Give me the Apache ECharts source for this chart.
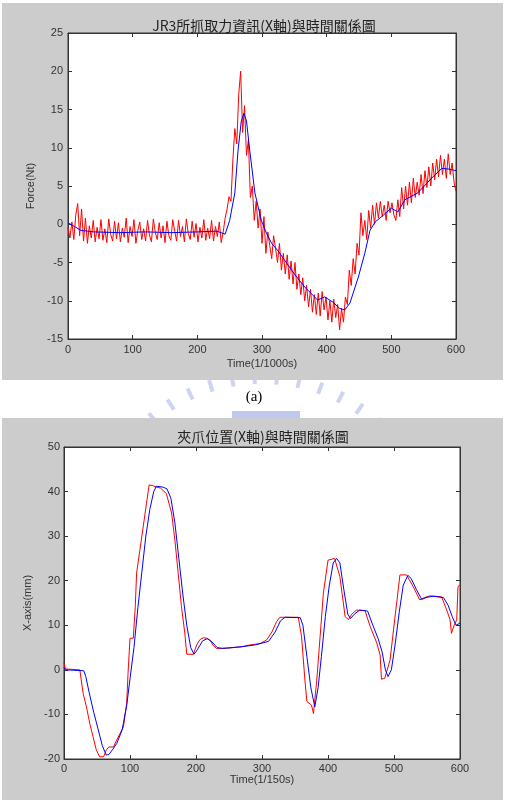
<!DOCTYPE html>
<html>
<head>
<meta charset="utf-8">
<script src="https://cdn.jsdelivr.net/npm/echarts@6/dist/echarts.min.js"></script>
<style>
  html, body { margin: 0; padding: 0; background: #fff; }
  #chart { width: 508px; height: 803px; }
</style>
</head>
<body>
<div id="chart"></div>
<script>
// (a) JR3 force, sampled every 3 units of 1/1000s
const forceStep = 3
const forceRed = [
  -0.5, -1.8, 0.3, -2.0, 1.2, 2.7, -1.5, 2.0, -2.2, 0.8,
  -2.5, -0.2, -1.8, 0.5, -2.3, -0.4, -1.9, 0.6, -2.1, -0.6,
  -2.4, 0.7, -1.3, -2.2, 0.4, -1.9, 0.2, -2.3, -0.5, -1.7,
  0.8, -2.4, -0.3, -1.6, 0.6, -2.5, -0.8, 0.3, -2.0, -0.6,
  -2.2, 0.5, -1.4, -2.3, 0.7, -1.1, -2.0, 0.2, -1.8, -0.2,
  -2.4, 0.4, -1.5, -2.1, 0.6, -0.9, -2.2, 0.5, -1.6, -0.3,
  -2.3, 0.7, -1.2, -2.0, 0.4, -1.7, 0.1, -2.3, -0.4, -1.8,
  0.6, -2.1, -0.5, -1.9, 0.5, -2.2, -0.3, -1.6, 0.3, -2.4,
  -1.0,
  0.8, 2.0, 3.6, 3.0, 8.5, 12.5, 10.5, 17.0, 20.0, 12.0,
  15.5, 9.0, 11.0, 3.5, 5.0, 0.5, 3.0, -0.5, 2.0, -2.5,
  1.0, -3.8, -1.0, -2.8, -4.5, -1.5, -3.2, -5.0, -2.5, -6.0,
  -3.8, -6.5, -4.0, -7.2, -4.8, -7.8, -5.0, -8.5, -6.5, -9.2,
  -7.0, -10.0, -8.0, -10.8, -8.5, -11.5, -9.2, -11.8, -9.0, -12.0,
  -8.8, -11.2, -9.5, -12.5, -10.0, -12.8, -9.8, -12.2, -10.5, -13.8,
  -11.0, -12.8, -9.5, -10.5, -6.0, -8.0, -4.5, -6.5, -2.5, -4.0,
  1.5, -1.5, 0.5, -2.0, 1.8, -0.5, 2.5, 0.0, 2.8, 0.8,
  3.0, 1.0, 2.5, 0.5, 3.0, 1.5, 2.8, 1.2, 0.5, 3.2,
  1.0, 4.8, 2.0, 5.0, 2.5, 5.5, 2.8, 6.0, 3.5, 5.5,
  3.8, 6.5, 4.0, 7.0, 4.8, 7.5, 5.0, 8.0, 5.8, 8.5,
  6.2, 9.0, 6.5, 8.5, 6.0, 9.2, 6.5, 8.0, 5.5, 4.3,
]
const forceBlue = [
  [0, 0.2], [10, -0.3], [20, -0.8], [40, -1.0], [80, -1.1], [120, -1.0], [160, -1.1],
  [200, -1.0], [230, -0.9], [243, -1.3], [250, 0.5], [258, 4.1], [263, 9.7], [268, 13.5],
  [272, 14.5], [276, 13.5], [281, 9.7], [289, 4.1], [299, 0.5], [307, -1.2], [315, -2.5],
  [325, -3.5], [335, -4.7], [350, -6.5], [366, -8.2], [386, -9.9], [397, -9.5], [410, -10.2],
  [420, -11.0], [428, -11.2], [436, -10.3], [449, -6.9], [459, -3.8], [467, -0.8], [475, 0.3],
  [485, 1.0], [500, 2.1], [510, 1.6], [521, 3.2], [541, 4.1], [562, 6.0], [578, 7.3],
  [590, 7.2], [600, 7.0],
]

// gripper X position (mm), time in 1/150s
const gripRed = [
  [0, 1.6], [2, 0.2], [5, 0], [24, 0], [29, -5.3], [34, -8.3], [39, -12], [44, -15],
  [49, -18], [54, -19.5], [60, -19.5], [64, -18], [68, -17.3], [75, -17.3], [80, -15.7],
  [90, -12.8], [95, -7.5], [97, -0.8], [100, 7.1], [105, 7.1], [108, 14.2], [110, 21.7],
  [112, 22], [115, 26.9], [120, 32.1], [125, 37.4], [129, 41.5], [135, 41.3], [140, 41],
  [146, 40.8], [155, 39.6], [163, 35.2], [168, 29.1], [173, 21.7], [178, 14.2], [183, 8.3],
  [186, 3.5], [196, 3.5], [201, 5.6], [206, 6.8], [211, 7.2], [216, 7.1], [221, 6.7],
  [226, 5.5], [231, 4.8], [250, 4.9], [270, 5.2], [282, 5.6], [297, 5.9], [307, 6.7],
  [315, 8.5], [322, 10.8], [327, 11.8], [355, 11.8], [360, 7.4], [365, -2.3], [368, -7.1],
  [375, -7.9], [378, -9.8], [383, -2.3], [388, 7.4], [393, 17.2], [400, 24.6], [410, 25],
  [418, 20.9], [426, 11.9], [431, 11.3], [436, 12.5], [443, 13.4], [456, 13.3], [464, 9.7],
  [474, 6.0], [479, 3.3], [481, -2.1], [486, -1.9], [494, 2.2], [501, 11.2], [509, 21.3],
  [519, 21.3], [529, 18.7], [539, 15.7], [546, 16.2], [554, 16.6], [572, 16.4], [580, 13.4],
  [585, 11.2], [587, 8.2], [592, 10.4], [595, 11.2], [597, 18.7], [600, 19],
]
const gripBlue = [
  [0, 0.5], [3, 0], [30, -0.2], [33, -1.5], [38, -5], [45, -9.5], [52, -13.5], [58, -17],
  [64, -19.1], [68, -19], [74, -17.8], [80, -16.5], [88, -13.5], [95, -8], [100, -2],
  [106, 5], [112, 14], [118, 22], [124, 30], [130, 36], [136, 40], [140, 41.2], [150, 41],
  [156, 40.6], [162, 38.5], [168, 33], [174, 25], [180, 17], [186, 10], [192, 5], [197, 3.5],
  [202, 4.5], [210, 6.5], [217, 7], [224, 6.3], [232, 5], [240, 4.8], [270, 5.2], [290, 5.6],
  [310, 6.4], [320, 8.5], [328, 11], [335, 11.8], [358, 11.7], [362, 10], [368, 3], [374, -4],
  [380, -8.3], [385, -4], [390, 3], [396, 12], [402, 19], [408, 24], [413, 25], [418, 24],
  [424, 18], [430, 12.5], [434, 11.5], [440, 12.5], [448, 13.4], [460, 13.2], [468, 10],
  [476, 7], [482, 4], [487, 0], [491, -1.5], [496, 0], [502, 6], [508, 13], [514, 19],
  [521, 21.2], [526, 20.5], [534, 18], [542, 15.8], [550, 16.3], [560, 16.5], [575, 16.2],
  [582, 14.5], [588, 12], [594, 10], [600, 10.5],
]

const titles = ['JR3所抓取力資訊(X軸)與時間關係圖', '夾爪位置(X軸)與時間關係圖']
const xNames = ['Time(1/1000s)', 'Time(1/150s)']
const yNames = ['Force(Nt)', 'X-axis(mm)']

const font = '"Liberation Sans", Arial, sans-serif'
const ink = '#333'

function axis(extra) {
  return Object.assign({
    type: 'value',
    axisLine: { show: true, onZero: false, lineStyle: { color: ink, width: 1 } },
    axisTick: { show: true, inside: true, length: 4, lineStyle: { color: ink } },
    axisLabel: { color: ink, fontSize: 11, fontFamily: font },
    splitLine: { show: false },
    nameTextStyle: { color: ink, fontSize: 11, fontFamily: font },
  }, extra)
}
const noLabel = { show: false }

// watermark dashes (decoration behind the panels)
const mark = []
for (let a = 40; a <= 140; a += 7.5) {
  const r = (a * Math.PI) / 180
  mark.push({
    type: 'line', z: -20, silent: true,
    shape: {
      x1: 262 + 164 * Math.cos(r), y1: 548 - 164 * Math.sin(r),
      x2: 262 + 176 * Math.cos(r), y2: 548 - 176 * Math.sin(r),
    },
    style: { stroke: '#cdd4f3', lineWidth: 4 },
  })
}

const option = {
  animation: false,
  title: [
    { text: titles[0], left: 259, top: 14, textAlign: 'center',
      textStyle: { fontSize: 14, fontWeight: 'normal', color: '#222', fontFamily: '"Noto Sans CJK TC", sans-serif' } },
    { text: titles[1], left: 258, top: 425, textAlign: 'center',
      textStyle: { fontSize: 14, fontWeight: 'normal', color: '#222', fontFamily: '"Noto Sans CJK TC", sans-serif' } },
  ],
  graphic: {
    elements: mark.concat([
      { type: 'rect', z: -20, silent: true, shape: { x: 232, y: 411, width: 68, height: 7 }, style: { fill: '#c0c8ee' } },
      { type: 'rect', z: -10, silent: true, shape: { x: 2, y: 3, width: 501, height: 377 }, style: { fill: '#cccccc' } },
      { type: 'rect', z: -10, silent: true, shape: { x: 2, y: 418, width: 501, height: 382 }, style: { fill: '#cccccc' } },
      { type: 'text', z: 10, x: 254, y: 397,
        style: { text: '(a)', fill: '#000', font: '15px "Liberation Serif", serif', textAlign: 'center', textVerticalAlign: 'middle' } },
    ]),
  },
  grid: [
    { left: 68, top: 33, width: 388, height: 306, show: true, backgroundColor: '#fff', borderColor: ink },
    { left: 64, top: 447, width: 396, height: 312, show: true, backgroundColor: '#fff', borderColor: ink },
  ],
  xAxis: [
    axis({ gridIndex: 0, min: 0, max: 600, interval: 100, position: 'bottom', axisLabel: { color: ink, fontSize: 11, fontFamily: font, margin: 5 },
      name: xNames[0], nameLocation: 'middle', nameGap: 19 }),
    axis({ gridIndex: 0, min: 0, max: 600, interval: 100, position: 'top', axisLabel: noLabel }),
    axis({ gridIndex: 1, min: 0, max: 600, interval: 100, position: 'bottom', axisLabel: { color: ink, fontSize: 11, fontFamily: font, margin: 4 },
      name: xNames[1], nameLocation: 'middle', nameGap: 15 }),
    axis({ gridIndex: 1, min: 0, max: 600, interval: 100, position: 'top', axisLabel: noLabel }),
  ],
  yAxis: [
    axis({ gridIndex: 0, min: -15, max: 25, interval: 5, position: 'left', axisLabel: { color: ink, fontSize: 11, fontFamily: font, margin: 5 },
      name: yNames[0], nameLocation: 'middle', nameGap: 29 }),
    axis({ gridIndex: 0, min: -15, max: 25, interval: 5, position: 'right', axisLabel: noLabel }),
    axis({ gridIndex: 1, min: -20, max: 50, interval: 10, position: 'left', axisLabel: { color: ink, fontSize: 11, fontFamily: font, margin: 4 },
      name: yNames[1], nameLocation: 'middle', nameGap: 28 }),
    axis({ gridIndex: 1, min: -20, max: 50, interval: 10, position: 'right', axisLabel: noLabel }),
  ],
  series: [
    { type: 'line', xAxisIndex: 0, yAxisIndex: 0, showSymbol: false,
      data: forceRed.map((v, i) => [i * forceStep, v]), lineStyle: { color: '#ff0000', width: 1 } },
    { type: 'line', xAxisIndex: 0, yAxisIndex: 0, showSymbol: false,
      data: forceBlue, lineStyle: { color: '#0000ff', width: 1 } },
    { type: 'line', xAxisIndex: 2, yAxisIndex: 2, showSymbol: false,
      data: gripRed, lineStyle: { color: '#ff0000', width: 1 } },
    { type: 'line', xAxisIndex: 2, yAxisIndex: 2, showSymbol: false,
      data: gripBlue, lineStyle: { color: '#0000ff', width: 1 } },
  ],
}

const chart = echarts.init(document.getElementById('chart'))
chart.setOption(option)
</script>
</body>
</html>
